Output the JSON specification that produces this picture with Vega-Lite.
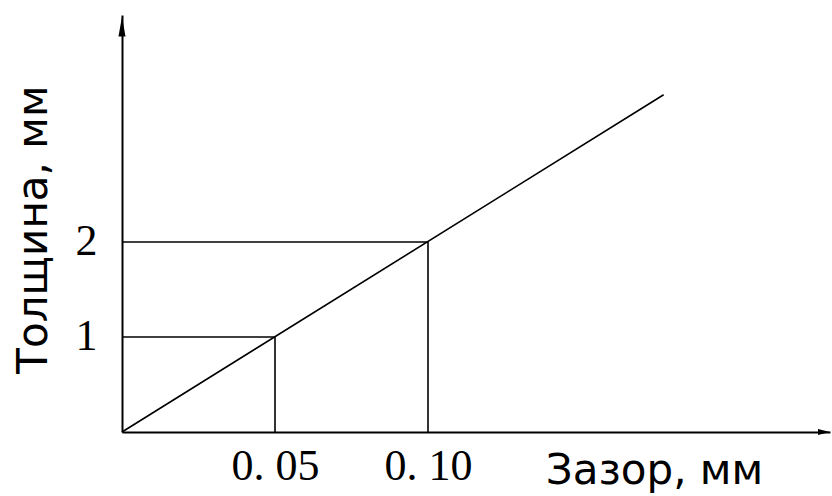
{
  "$schema": "https://vega.github.io/schema/vega-lite/v6.json",
  "width": 708,
  "height": 417,
  "autosize": {"type": "none"},
  "padding": {"left": 122, "top": 15, "right": 2, "bottom": 64},
  "background": "white",
  "config": {"view": {"stroke": null}},
  "datasets": {
    "line": [{"x": 0, "y": 0}, {"x": 0.177, "y": 3.55}],
    "hguides": [{"x": 0, "x2": 0.05, "y": 1}, {"x": 0, "x2": 0.10, "y": 2}],
    "vguides": [{"x": 0.05, "y": 0, "y2": 1}, {"x": 0.10, "y": 0, "y2": 2}],
    "yarrow": [{"x": 0, "y": 4.268}],
    "xarrow": [{"x": 0.2294, "y": 0}]
  },
  "layer": [
    {
      "data": {"name": "line"},
      "mark": {"type": "line", "color": "black", "strokeWidth": 1.6},
      "encoding": {
        "x": {
          "field": "x", "type": "quantitative",
          "scale": {"domain": [0, 0.23137], "nice": false, "zero": true},
          "axis": {
            "orient": "bottom",
            "values": [0.05, 0.1],
            "labelExpr": "replace(format(datum.value, '.2f'), '.', '. ')",
            "labelFont": "Liberation Serif",
            "labelFontSize": 44,
            "labelColor": "black",
            "labelBaseline": "alphabetic",
            "labelPadding": 47,
            "labelFlush": false,
            "labelOverlap": false,
            "ticks": false,
            "grid": false,
            "domainColor": "black",
            "domainWidth": 2,
            "title": "Зазор, мм",
            "titleFont": "DejaVu Sans",
            "titleFontSize": 42,
            "titleFontWeight": "normal",
            "titleColor": "black",
            "titleAlign": "center",
            "titleBaseline": "alphabetic",
            "titleX": 532,
            "titleY": 51
          }
        },
        "y": {
          "field": "y", "type": "quantitative",
          "scale": {"domain": [0, 4.389], "nice": false, "zero": true},
          "axis": {
            "orient": "left",
            "values": [1, 2],
            "labelExpr": "format(datum.value, 'd')",
            "labelFont": "Liberation Serif",
            "labelFontSize": 44,
            "labelColor": "black",
            "labelPadding": 25,
            "labelFlush": false,
            "labelOverlap": false,
            "ticks": false,
            "grid": false,
            "domainColor": "black",
            "domainWidth": 2,
            "title": "Толщина, мм",
            "titleFont": "DejaVu Sans",
            "titleFontSize": 42,
            "titleFontWeight": "normal",
            "titleColor": "black",
            "titleAngle": -90,
            "titleAlign": "center",
            "titleBaseline": "alphabetic",
            "titleX": -76,
            "titleY": 214
          }
        }
      }
    },
    {
      "data": {"name": "hguides"},
      "mark": {"type": "rule", "color": "black", "strokeWidth": 1.6},
      "encoding": {
        "x": {"field": "x", "type": "quantitative"},
        "x2": {"field": "x2"},
        "y": {"field": "y", "type": "quantitative"}
      }
    },
    {
      "data": {"name": "vguides"},
      "mark": {"type": "rule", "color": "black", "strokeWidth": 1.6},
      "encoding": {
        "x": {"field": "x", "type": "quantitative"},
        "y": {"field": "y", "type": "quantitative"},
        "y2": {"field": "y2"}
      }
    },
    {
      "data": {"name": "yarrow"},
      "mark": {"type": "point", "shape": "M0,-1L0.35,1L-0.35,1Z", "size": 400, "filled": true, "color": "black", "opacity": 1},
      "encoding": {
        "x": {"field": "x", "type": "quantitative"},
        "y": {"field": "y", "type": "quantitative"}
      }
    },
    {
      "data": {"name": "xarrow"},
      "mark": {"type": "point", "shape": "M1,0L-1,-0.5L-1,0.5Z", "size": 144, "filled": true, "color": "black", "opacity": 1},
      "encoding": {
        "x": {"field": "x", "type": "quantitative"},
        "y": {"field": "y", "type": "quantitative"}
      }
    }
  ]
}
